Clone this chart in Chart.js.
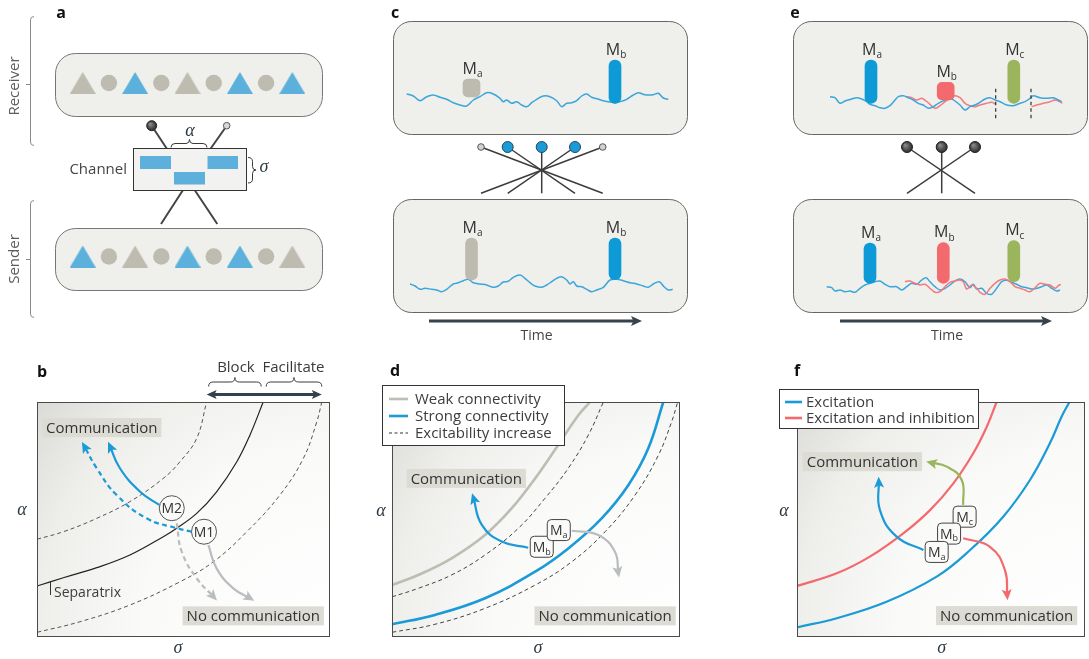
<!DOCTYPE html>
<html>
<head>
<meta charset="utf-8">
<script src="https://cdn.jsdelivr.net/npm/chart.js@4.4.1/dist/chart.umd.min.js"></script>
<style>
  html, body { margin: 0; padding: 0; background: #ffffff; }
  body { position: relative; width: 1089px; height: 659px; overflow: hidden; }
  canvas { position: absolute; }
</style>
</head>
<body>
<canvas id="panelA" width="360" height="340" style="left:0;top:0"></canvas>
<canvas id="panelC" width="350" height="350" style="left:370px;top:0"></canvas>
<canvas id="panelE" width="319" height="350" style="left:770px;top:0"></canvas>
<canvas id="panelB" width="365" height="304" style="left:0;top:355px"></canvas>
<canvas id="panelD" width="330" height="304" style="left:370px;top:355px"></canvas>
<canvas id="panelF" width="319" height="304" style="left:770px;top:355px"></canvas>
<script>
// ---------------- data ----------------
// a: channel populations (left to right)
const receiverSymbols = ['triangle', 'circle', 'triangle', 'circle', 'triangle', 'circle', 'triangle', 'circle', 'triangle'];
const receiverKinds   = ['grey', 'grey', 'blue', 'grey', 'grey', 'grey', 'blue', 'grey', 'blue'];
const senderSymbols   = ['triangle', 'circle', 'triangle', 'circle', 'triangle', 'circle', 'triangle', 'circle', 'triangle'];
const senderKinds     = ['blue', 'grey', 'grey', 'grey', 'blue', 'grey', 'blue', 'grey', 'grey'];

// c: activity traces, [time, deviation from rest]
const cReceiverTrace = [[13.7,1],[20.3,-1],[27,-5.7],[33.7,-1.7],[40.3,0],[47,-2.3],[53.7,-4.3],[60.3,-7.7],[67,-10],[73.7,-11],[80.3,-5],[87,-1.7],[93.7,2.3],[100.3,1],[107,-3.3],[110.3,-6.7],[113.7,-5],[118.7,-8.3],[123.7,-6.7],[128.7,-10],[133.7,-11.7],[138.7,-7.7],[143.7,-4.3],[150.3,-1],[157,-1.7],[163.7,-5.7],[168.7,-11.7],[173.7,-8.3],[178.7,-7.7],[183.7,-5.7],[188.7,-1],[193.7,1],[198.7,-2.3],[203.7,-3.7],[210.3,-5.7],[215.3,-6.7],[222,-7.7],[227,-6.7],[233.7,-4.3],[240.3,0],[245.3,2.3],[252,0.3],[260.3,0.3],[265.3,1.7],[270.3,-3],[275.3,-4.3]];
const cSenderTrace = [[17,1],[22,-1],[27,-4.3],[32,-3.3],[38.7,-4.3],[43.7,-5],[48.7,-6.7],[53.7,-4.3],[60.3,1],[65.3,2.3],[70.3,4.3],[75.3,5.7],[80.3,2.3],[87,1],[93.7,0],[100.3,-2.3],[105.3,-1],[110.3,3],[115.3,3.7],[120.3,7.7],[127,10],[132,6.7],[137,2.3],[142,-1],[148.7,-2.3],[153.7,0],[158.7,3.3],[163.7,6.7],[168.7,8.3],[173.7,5],[177,1],[180.3,3.3],[183.7,-1],[188.7,-1.7],[193.7,-4.3],[198.7,-6.7],[203.7,-5],[210.3,-2.3],[217,5],[223.7,5.7],[230.3,4.3],[237,2.3],[243.7,1],[250.3,-1],[255.3,-2.3],[260.3,1],[266.3,3.3],[271,-1.7],[275.3,-5],[279.7,-4.3]];
const cMessageNames = ['a', 'b'];
const cMessageTimes = [78.5, 222];
const cReceiverResponse = [[-2, 16], [-8.3, 35]];
const cSenderSpike = [[5, 47], [5.3, 47]];

// e: excitatory (blue) and inhibitory (red) activity traces
const eReceiverExcTrace = [[37,1.3],[42,0.3],[47,-5.3],[52,-3],[58.7,-1],[63.7,0.3],[68.7,-1],[73.7,-3.7],[77,-6.3],[82,-7.7],[87,-9.7],[92,-10.3],[97,-7.7],[102,-2],[105.3,1.3],[110.3,2.3],[115.3,0.3],[120.3,-2],[125.3,-5.3],[130.3,-7],[135.3,-10.3],[140.3,-8.7],[145.3,-5.3],[152,-2],[157,-0.3],[162,-3],[167,-7],[172,-12],[177,-8.7],[182,-7],[187,-4.3],[192,-1],[197,0.3],[202,-2],[207,-3.7],[213.7,-7],[220.3,-7.7],[227,-5.3],[232,-3.7],[237,-0.3],[240.3,2.3],[247,0.3],[253.7,-0.3],[260.3,0.3],[265.3,-2],[268.7,-3.7]];
const eReceiverInhTraceEarly = [[113.7,1.3],[118.7,0.3],[123.7,-2],[128.7,-0.3],[133,-3],[137,-6.3],[142,-10.3],[147,-7.7],[152,-3.7],[157,-0.3],[162,2.3],[167,0.3],[172,-5.3],[177,-7.7],[182,-8.7],[187,-7],[193.7,-5.3],[198.7,-4.3],[203,-6.3]];
const eReceiverInhTraceLate = [[238.7,-8.7],[243.7,-7],[250.3,-5.3],[257,-3.7],[262,-2],[265.3,-3],[269.3,-5]];
const eSenderExcTrace = [[33.7,1.3],[38.7,0.3],[42,-3],[47,-2],[52,-3.7],[57,-3],[62,-4.3],[67,-0.3],[72,3],[77,4.7],[82,6.3],[87,7],[92,3.7],[97,1.3],[103.7,1.3],[108.7,-2],[113.7,1.3],[118.7,4.7],[123.7,3.7],[128.7,8],[133,10.3],[137,6.3],[142,1.3],[147,-2],[152,-0.3],[157,3],[162,7],[167,9],[172,6.3],[177,0.3],[180.3,3.7],[183.7,-1],[188.7,-0.3],[193.7,-5.3],[198.7,-6.3],[203.7,-0.3],[208.7,6.3],[213.7,7.7],[218.7,5.7],[223.7,3.7],[228.7,1.3],[233.7,0.3],[238.7,-1],[243.7,-0.3],[248.7,1.3],[253.7,3],[258.7,-0.3],[263.7,-3],[267,-2]];
const eSenderInhTrace = [[112,6.3],[117,7],[122,4.7],[127,3],[132,3.7],[137,-0.3],[142,-4.3],[147,-3.7],[152,1.3],[157,5.7],[162,7],[167,8],[170.3,6.3],[173.7,-1],[178.7,3],[183.7,-0.3],[187,-4.3],[192,-6.3],[197,-0.3],[202,4.7],[207,8],[212,9],[217,6.3],[222,1.3],[227,-0.3],[232,-2],[237,-3.7],[242,0.3],[247,4.7],[252,3.7],[257,3],[262,-0.3],[265.3,2.3],[267.7,3.7]];
const eMessageNames = ['a', 'b', 'c'];
const eReceiverTimes = [78, 152.7, 220.8];
const eSenderTimes = [77, 150.3, 220.8];
const eReceiverResponse = [[-5.3, 38], [-2, 15.7], [-5.3, 38]];
const eSenderSpike = [[4.7, 45], [4.7, 45.3], [6.3, 47.3]];
const eWindowEdges = [202.7, 238];
const eWindowSpan = [-20.3, 11.3];

// b: threshold curves in (σ, α) space, [σ, α]
const bSeparatrix = [[0,21.7],[9,25.2],[20.4,29.5],[31.7,34.9],[43.1,42.7],[47.7,46.3],[54.5,52.6],[61.3,61.8],[68.2,74.6],[72.7,86],[77.2,100]];
const bSeparatrixBlocked = [[0,41.6],[9,44.8],[20.4,50.5],[31.7,57.6],[43.1,67.5],[48.8,74.6],[54.5,84.5],[57.9,100]];
const bSeparatrixFacilitated = [[0,2],[14.7,6.5],[31.7,13.6],[48.8,23.5],[60.2,32],[71.6,44.8],[82.9,60.4],[90.9,76],[95.5,91.6],[97.2,100]];
const bM2Communicates = [[41.7,56.2],[35.2,61.8],[28.3,71.8],[24.8,81.5]];
const bM1Facilitated = [[52.8,44.8],[47.7,46.3],[37.4,50.5],[27.2,60.4],[20.4,71.8],[16,81.5]];
const bM2Blocked = [[47.7,48.4],[49.4,36.3],[54.5,25],[60.5,16.8]];
const bM1Silent = [[58.5,39.1],[61.3,29.2],[67,20.7],[73,16.3]];
const bMessageNames = ['M1', 'M2'];
const bMessageSigma = [57, 46];
const bMessageAlpha = [44.8, 54.8];

// d: connectivity strength shifts the threshold
const dWeak = [[0,22.1],[9.1,26.4],[20.7,33.5],[32.3,43.4],[41.6,54.8],[49.7,67.5],[57.7,81.7],[64.7,94.4],[68.8,100]];
const dWeakExcitable = [[0,17.1],[9.1,20.7],[20.7,26.4],[32.3,34.9],[43.9,46.3],[53.1,59],[61.2,71.8],[68.2,86],[73.4,100]];
const dStrong = [[0,5.4],[14.9,9.4],[32.3,16.5],[49.7,27.8],[61.2,37.7],[72.8,50.5],[82.1,64.7],[89,80.3],[94.2,100]];
const dStrongExcitable = [[0,2],[14.9,5.4],[32.3,12.2],[49.7,22.1],[62.4,32],[74,44.8],[84.4,60.4],[92.5,77.4],[97.1,91.6],[99.2,100]];
const dMbToCommunication = [[47.3,38],[38.1,40.6],[31.2,47.7],[28.2,59.5]];
const dMaToSilence = [[62.4,45.2],[71.6,43.4],[77.4,36.3],[78.6,27]];
const dMessageNames = ['a', 'b'];
const dMessageSigma = [57.9, 52];
const dMessageAlpha = [45.5, 38.4];

// f: excitation alone versus excitation with inhibition
const fExcitation = [[0,4.1],[13.8,8],[31.1,15],[48.5,25.7],[60.1,37],[71.6,51.2],[80.9,66.8],[87.8,82.4],[91.9,93.8],[94.6,100]];
const fExcInh = [[0,21.7],[13.8,27.1],[25.3,34.2],[36.9,44.1],[46.2,54],[54.3,65.4],[61.2,78.2],[65.9,89.5],[69.3,100]];
const fMaToCommunication = [[43.9,37],[34.6,42.7],[28.8,54],[28.4,66.5]];
const fMcToCommunication = [[57.7,56.2],[57.2,66.8],[52,72.5],[46.2,74.3]];
const fMbToSilence = [[57.7,42],[67,38.4],[72.2,28.5],[73,17.3]];
const fMessageNames = ['a', 'b', 'c'];
const fMessageSigma = [48.5, 52.8, 58.2];
const fMessageAlpha = [36.2, 44, 51.2];

// ---------------- styling ----------------
const FONT = "'Open Sans', 'Noto Sans', 'DejaVu Sans', sans-serif";
const GREEK = "'Liberation Serif', 'DejaVu Serif', serif";
const BLUE = '#1a9ad6';
const BAR_BLUE = '#0e9ad6';
const TRACE_BLUE = '#3ba6dc';
const RED = '#f26a6e';
const TRACE_RED = '#f47a7d';
const GREEN = '#9bb55c';
const MSG_GREY = '#bdbab0';
const ARROW_GREY = '#b9bdc0';
const BOX_FILL = '#efefeb';
const TAG_FILL = '#dcdbd4';
const symbolColour = { blue: '#5cb0dc', grey: '#bebbb0' };

// ---------------- drawing helpers ----------------
function roundRect(ctx, x, y, w, h, r) {
  ctx.beginPath();
  ctx.moveTo(x + r, y);
  ctx.arcTo(x + w, y, x + w, y + h, r);
  ctx.arcTo(x + w, y + h, x, y + h, r);
  ctx.arcTo(x, y + h, x, y, r);
  ctx.arcTo(x, y, x + w, y, r);
  ctx.closePath();
}
function label(ctx, str, x, y, o = {}) {
  ctx.save();
  ctx.font = `${o.style || 'normal'} ${o.weight || 'normal'} ${o.size || 15}px ${o.family || FONT}`;
  ctx.fillStyle = o.colour || '#3d3d3d';
  ctx.textAlign = o.align || 'center';
  ctx.textBaseline = o.baseline || 'middle';
  ctx.fillText(str, x, y);
  ctx.restore();
}
function greek(ctx, ch, x, y) {
  label(ctx, ch, x, y, { family: GREEK, style: 'italic', size: 18, colour: '#2c3841' });
}
function drawM(ctx, sub, cx, cy, size) {
  ctx.save();
  const subSize = Math.round(size * 0.62);
  ctx.font = `${size}px ${FONT}`;
  const wM = ctx.measureText('M').width;
  ctx.font = `${subSize}px ${FONT}`;
  const wS = ctx.measureText(sub).width;
  const x0 = cx - (wM + wS) / 2;
  const base = cy + size * 0.36;
  ctx.fillStyle = '#333';
  ctx.textAlign = 'left';
  ctx.textBaseline = 'alphabetic';
  ctx.font = `${size}px ${FONT}`;
  ctx.fillText('M', x0, base);
  ctx.font = `${subSize}px ${FONT}`;
  ctx.fillText(sub, x0 + wM, base + size * 0.2);
  ctx.restore();
}
function arrowHead(ctx, tx, ty, ux, uy, len, half, colour) {
  ctx.save();
  ctx.fillStyle = colour;
  ctx.beginPath();
  ctx.moveTo(tx, ty);
  ctx.lineTo(tx - ux * len - uy * half, ty - uy * len + ux * half);
  ctx.lineTo(tx - ux * len * 0.78, ty - uy * len * 0.78);
  ctx.lineTo(tx - ux * len + uy * half, ty - uy * len - ux * half);
  ctx.closePath();
  ctx.fill();
  ctx.restore();
}
function straightArrow(ctx, x1, y1, x2, y2, colour, lw, len, half, both) {
  const d = Math.hypot(x2 - x1, y2 - y1), ux = (x2 - x1) / d, uy = (y2 - y1) / d;
  ctx.save();
  ctx.strokeStyle = colour;
  ctx.lineWidth = lw;
  ctx.beginPath();
  const s = both ? len * 0.6 : 0;
  ctx.moveTo(x1 + ux * s, y1 + uy * s);
  ctx.lineTo(x2 - ux * len * 0.6, y2 - uy * len * 0.6);
  ctx.stroke();
  ctx.restore();
  arrowHead(ctx, x2, y2, ux, uy, len, half, colour);
  if (both) arrowHead(ctx, x1, y1, -ux, -uy, len, half, colour);
}
function hBrace(ctx, x1, x2, y, h) {
  const m = (x1 + x2) / 2;
  ctx.save();
  ctx.strokeStyle = '#3a3a3a';
  ctx.lineWidth = 1;
  ctx.beginPath();
  ctx.moveTo(x1, y + h);
  ctx.quadraticCurveTo(x1, y, x1 + h, y);
  ctx.lineTo(m - h, y);
  ctx.quadraticCurveTo(m, y, m, y - h);
  ctx.quadraticCurveTo(m, y, m + h, y);
  ctx.lineTo(x2 - h, y);
  ctx.quadraticCurveTo(x2, y, x2, y + h);
  ctx.stroke();
  ctx.restore();
}
function tag(ctx, str, cx, cy) {
  ctx.save();
  ctx.font = `15px ${FONT}`;
  const w = ctx.measureText(str).width + 8, h = 19;
  ctx.fillStyle = TAG_FILL;
  ctx.fillRect(cx - w / 2, cy - h / 2, w, h);
  ctx.fillStyle = '#333';
  ctx.textAlign = 'center';
  ctx.textBaseline = 'middle';
  ctx.fillText(str, cx, cy + 1);
  ctx.restore();
}
function ball(ctx, x, y, r, fill, stroke) {
  ctx.save();
  ctx.beginPath();
  ctx.arc(x, y, r, 0, Math.PI * 2);
  ctx.fillStyle = fill;
  ctx.fill();
  ctx.strokeStyle = stroke;
  ctx.lineWidth = 1;
  ctx.stroke();
  ctx.restore();
}
function darkBall(ctx, x, y, r) {
  const g = ctx.createRadialGradient(x - r * 0.35, y - r * 0.35, 0.5, x, y, r);
  g.addColorStop(0, '#8a8a8a');
  g.addColorStop(1, '#2b2b2b');
  ball(ctx, x, y, r, g, '#222');
}
const baseOptions = {
  responsive: false,
  animation: false,
  events: [],
  plugins: { legend: { display: false }, tooltip: { enabled: false } }
};

// ---------------- panel a ----------------
function triangleSprite(colour) {
  const c = document.createElement('canvas');
  c.width = 26; c.height = 22;
  const g = c.getContext('2d');
  g.fillStyle = colour;
  g.beginPath();
  g.moveTo(13, 0); g.lineTo(26, 22); g.lineTo(0, 22);
  g.closePath();
  g.fill();
  return c;
}
const sprites = { blue: triangleSprite(symbolColour.blue), grey: triangleSprite(symbolColour.grey) };
function rowDataset(row, symbols, kinds) {
  return {
    data: symbols.map((s, i) => ({ x: i + 1, y: row })),
    pointStyle: symbols.map((s, i) => (s === 'triangle' ? sprites[kinds[i]] : 'circle')),
    pointRadius: 8.2,
    pointBackgroundColor: kinds.map(k => symbolColour[k]),
    pointBorderWidth: 0,
    showLine: false,
    clip: false
  };
}
function drawPanelA(ctx) {
  ctx.save();
  label(ctx, 'a', 61, 13, { weight: 'bold', size: 16, colour: '#111' });
  // population brackets
  ctx.strokeStyle = '#8c8c8c';
  ctx.lineWidth = 1;
  [[16, 146, 84], [200, 318, 259]].forEach(([t, b, m]) => {
    ctx.beginPath();
    ctx.moveTo(34, t + 0.5); ctx.quadraticCurveTo(30.5, t + 0.5, 30.5, t + 4);
    ctx.lineTo(30.5, b - 4); ctx.quadraticCurveTo(30.5, b - 0.5, 34, b - 0.5);
    ctx.moveTo(30.5, m + 0.5); ctx.lineTo(26, m + 0.5);
    ctx.stroke();
  });
  [['Receiver', 86], ['Sender', 259]].forEach(([s, y]) => {
    ctx.save();
    ctx.translate(15, y);
    ctx.rotate(-Math.PI / 2);
    label(ctx, s, 0, 0, { size: 15, colour: '#5c5c5c' });
    ctx.restore();
  });
  // population boxes
  [[53, 63], [228, 62]].forEach(([y, h]) => {
    roundRect(ctx, 55.5, y + 0.5, 267, h, 20);
    ctx.fillStyle = BOX_FILL; ctx.fill();
    ctx.strokeStyle = '#767676'; ctx.lineWidth = 1; ctx.stroke();
  });
  // stalks above and below the channel
  ctx.strokeStyle = '#454545';
  ctx.lineWidth = 2;
  ctx.beginPath();
  ctx.moveTo(151.7, 125.7); ctx.lineTo(166.7, 148.5);
  ctx.moveTo(226.7, 125.7); ctx.lineTo(210.7, 148.5);
  ctx.moveTo(182.7, 190.5); ctx.lineTo(161, 224);
  ctx.moveTo(195, 190.5); ctx.lineTo(217.3, 224);
  ctx.stroke();
  darkBall(ctx, 151.7, 125.7, 5);
  ball(ctx, 226.7, 125.7, 3.3, '#d8d8d8', '#555');
  // channel
  ctx.fillStyle = '#f2f2f0';
  ctx.fillRect(133, 148.5, 114, 42);
  ctx.strokeStyle = '#333'; ctx.lineWidth = 1;
  ctx.strokeRect(133.5, 148.5, 113, 42);
  ctx.fillStyle = '#5eb0dc';
  ctx.fillRect(140, 156, 31, 13);
  ctx.fillRect(174, 172, 31, 12.5);
  ctx.fillRect(207.5, 156, 30.5, 13);
  label(ctx, 'Channel', 127, 170, { align: 'right', size: 15, colour: '#454545' });
  // spacing bracket (α) and width bracket (σ)
  ctx.strokeStyle = '#3a3a3a'; ctx.lineWidth = 1;
  ctx.beginPath();
  ctx.moveTo(171, 147.5); ctx.quadraticCurveTo(171, 143.5, 175, 143.5);
  ctx.lineTo(186, 143.5); ctx.quadraticCurveTo(189.5, 143.5, 189.5, 139.5);
  ctx.quadraticCurveTo(189.5, 143.5, 193, 143.5);
  ctx.lineTo(203, 143.5); ctx.quadraticCurveTo(207, 143.5, 207, 147.5);
  ctx.stroke();
  ctx.beginPath();
  ctx.moveTo(248, 157.5); ctx.quadraticCurveTo(252.5, 157.5, 252.5, 161.5);
  ctx.lineTo(252.5, 166.5); ctx.quadraticCurveTo(252.5, 170, 256, 170);
  ctx.quadraticCurveTo(252.5, 170, 252.5, 173.5);
  ctx.lineTo(252.5, 179); ctx.quadraticCurveTo(252.5, 183, 248, 183);
  ctx.stroke();
  greek(ctx, 'α', 190, 131);
  greek(ctx, 'σ', 264, 167);
  ctx.restore();
}
new Chart(document.getElementById('panelA'), {
  type: 'scatter',
  data: { datasets: [rowDataset(1, receiverSymbols, receiverKinds), rowDataset(0, senderSymbols, senderKinds)] },
  options: {
    ...baseOptions,
    layout: { padding: { left: 82.7, right: 67.7, top: 83, bottom: 83.5 } },
    scales: {
      x: { type: 'linear', min: 1, max: 9, display: false },
      y: { type: 'linear', min: 0, max: 1, display: false }
    }
  },
  plugins: [{ id: 'populations', beforeDatasetsDraw(chart) { drawPanelA(chart.ctx); } }]
});

// ---------------- panels c and e ----------------
function tracePanel(id, cfg) {
  const canvas = document.getElementById(id);
  const H = canvas.height;
  const datasets = [];
  const messageSets = [];
  cfg.traces.forEach(tr => datasets.push({
    type: 'line', yAxisID: tr.axis,
    data: tr.points.map(([t, v]) => ({ x: t, y: v })),
    borderColor: tr.colour, borderWidth: 1.5, tension: 0.35,
    pointRadius: 0, fill: false, order: 2, clip: false
  }));
  cfg.messages.forEach(m => {
    messageSets.push({ index: datasets.length, name: m.name });
    datasets.push({
      type: 'bar', yAxisID: m.axis, data: [{ x: m.t, y: m.range }],
      backgroundColor: m.colour, barThickness: m.width, borderRadius: m.radius,
      borderSkipped: false, grouped: false, order: 0
    });
  });
  (cfg.guides || []).forEach(g => datasets.push({
    type: 'line', yAxisID: g.axis, data: g.points.map(([t, v]) => ({ x: t, y: v })),
    borderColor: '#2f2f2f', borderWidth: 1.2, borderDash: [3.5, 3], pointRadius: 0, order: 1, clip: false
  }));
  return new Chart(canvas, {
    type: 'line',
    data: { datasets },
    options: {
      ...baseOptions,
      layout: { padding: { left: cfg.left, right: canvas.width - cfg.left - 294, top: 0, bottom: 0 } },
      scales: {
        x: { type: 'linear', min: 0, max: 294, display: false, offset: false },
        yR: { type: 'linear', axis: 'y', position: 'left', min: cfg.receiverBaseline - H, max: cfg.receiverBaseline, display: false },
        yS: { type: 'linear', axis: 'y', position: 'left', min: cfg.senderBaseline - H, max: cfg.senderBaseline, display: false }
      }
    },
    plugins: [{
      id: 'traceScene',
      beforeDatasetsDraw(chart) { cfg.drawScene(chart.ctx); },
      afterDatasetsDraw(chart) {
        messageSets.forEach(ms => {
          const el = chart.getDatasetMeta(ms.index).data[0];
          const top = Math.min(el.y, el.base);
          drawM(chart.ctx, ms.name, el.x + 1, top - 11, 16);
        });
      }
    }]
  });
}
function drawTraceScene(ctx, letter, balls, ballY, footY, arrowX1, arrowX2) {
  label(ctx, letter, 25, 13, { weight: 'bold', size: 16, colour: '#111' });
  [21, 199].forEach(y => {
    roundRect(ctx, 23.5, y + 0.5, 294, 113, 18);
    ctx.fillStyle = BOX_FILL; ctx.fill();
    ctx.strokeStyle = '#666'; ctx.lineWidth = 1; ctx.stroke();
  });
  ctx.save();
  ctx.strokeStyle = '#3c3c3c';
  ctx.lineWidth = 1.5;
  balls.forEach((b, i) => {
    const foot = balls[balls.length - 1 - i].x;
    ctx.beginPath();
    ctx.moveTo(b.x, ballY);
    ctx.lineTo(foot, footY);
    ctx.stroke();
  });
  ctx.restore();
  balls.forEach(b => {
    if (b.kind === 'dark') darkBall(ctx, b.x, ballY, 5.5);
    else if (b.kind === 'blue') ball(ctx, b.x, ballY, 5.5, BLUE, '#234a5e');
    else ball(ctx, b.x, ballY, 3.3, '#d2d2d2', '#555');
  });
  straightArrow(ctx, arrowX1, 321, arrowX2, 321, '#36434c', 3, 11, 5, false);
  label(ctx, 'Time', (arrowX1 + arrowX2) / 2 + 1, 336, { size: 14, colour: '#444' });
}
tracePanel('panelC', {
  left: 23, receiverBaseline: 95, senderBaseline: 285,
  traces: [
    { axis: 'yR', points: cReceiverTrace, colour: TRACE_BLUE },
    { axis: 'yS', points: cSenderTrace, colour: TRACE_BLUE }
  ],
  messages: [
    { axis: 'yR', name: cMessageNames[0], t: cMessageTimes[0], range: cReceiverResponse[0], colour: MSG_GREY, width: 17, radius: 5 },
    { axis: 'yR', name: cMessageNames[1], t: cMessageTimes[1], range: cReceiverResponse[1], colour: BAR_BLUE, width: 12, radius: 6 },
    { axis: 'yS', name: cMessageNames[0], t: cMessageTimes[0], range: cSenderSpike[0], colour: MSG_GREY, width: 12, radius: 6 },
    { axis: 'yS', name: cMessageNames[1], t: cMessageTimes[1], range: cSenderSpike[1], colour: BAR_BLUE, width: 12, radius: 6 }
  ],
  drawScene(ctx) {
    drawTraceScene(ctx, 'c',
      [{ x: 111, kind: 'small' }, { x: 137.7, kind: 'blue' }, { x: 171.7, kind: 'blue' }, { x: 205, kind: 'blue' }, { x: 232.7, kind: 'small' }],
      147, 193.3, 59, 272);
  }
});
tracePanel('panelE', {
  left: 23, receiverBaseline: 98, senderBaseline: 288,
  traces: [
    { axis: 'yR', points: eReceiverExcTrace, colour: TRACE_BLUE },
    { axis: 'yR', points: eReceiverInhTraceEarly, colour: TRACE_RED },
    { axis: 'yR', points: eReceiverInhTraceLate, colour: TRACE_RED },
    { axis: 'yS', points: eSenderInhTrace, colour: TRACE_RED },
    { axis: 'yS', points: eSenderExcTrace, colour: TRACE_BLUE }
  ],
  messages: [
    { axis: 'yR', name: eMessageNames[0], t: eReceiverTimes[0], range: eReceiverResponse[0], colour: BAR_BLUE, width: 12, radius: 6 },
    { axis: 'yR', name: eMessageNames[1], t: eReceiverTimes[1], range: eReceiverResponse[1], colour: RED, width: 17, radius: 5 },
    { axis: 'yR', name: eMessageNames[2], t: eReceiverTimes[2], range: eReceiverResponse[2], colour: GREEN, width: 12, radius: 6 },
    { axis: 'yS', name: eMessageNames[0], t: eSenderTimes[0], range: eSenderSpike[0], colour: BAR_BLUE, width: 12, radius: 6 },
    { axis: 'yS', name: eMessageNames[1], t: eSenderTimes[1], range: eSenderSpike[1], colour: RED, width: 12, radius: 6 },
    { axis: 'yS', name: eMessageNames[2], t: eSenderTimes[2], range: eSenderSpike[2], colour: GREEN, width: 12, radius: 6 }
  ],
  guides: eWindowEdges.map(t => ({ axis: 'yR', points: [[t, eWindowSpan[0]], [t, eWindowSpan[1]]] })),
  drawScene(ctx) {
    drawTraceScene(ctx, 'e',
      [{ x: 137, kind: 'dark' }, { x: 171.7, kind: 'dark' }, { x: 205, kind: 'dark' }],
      147, 193.3, 70, 282);
  }
});

// ---------------- panels b, d and f ----------------
function phasePanel(id, cfg) {
  const canvas = document.getElementById(id);
  const datasets = [];
  const arrowSets = [];
  cfg.curves.forEach(c => datasets.push({
    data: c.points.map(([s, a]) => ({ x: s, y: a })),
    borderColor: c.colour, borderWidth: c.width, borderDash: c.dash || [],
    tension: 0.4, pointRadius: 0, fill: false, order: 2
  }));
  cfg.arrows.forEach(a => {
    arrowSets.push({ index: datasets.length, colour: a.colour });
    datasets.push({
      data: a.points.map(([s, al]) => ({ x: s, y: al })),
      borderColor: a.colour, borderWidth: 2.2, borderDash: a.dash || [],
      tension: 0.45, pointRadius: 0, fill: false, order: 1, clip: false
    });
  });
  return new Chart(canvas, {
    type: 'line',
    data: { datasets },
    options: {
      ...baseOptions,
      layout: { padding: cfg.padding },
      scales: {
        x: { type: 'linear', min: 0, max: 100, display: false },
        y: { type: 'linear', min: 0, max: 100, display: false }
      }
    },
    plugins: [{
      id: 'phaseScene',
      beforeDatasetsDraw(chart) {
        const { ctx, chartArea: a } = chart;
        const r = Math.hypot(a.right - a.left, a.bottom - a.top);
        const g = ctx.createRadialGradient(a.right, a.bottom, 0, a.right, a.bottom, r);
        g.addColorStop(0, '#ffffff');
        g.addColorStop(0.5, '#fafaf9');
        g.addColorStop(0.78, '#eeeeeb');
        g.addColorStop(1, '#dadad6');
        ctx.save();
        ctx.fillStyle = g;
        ctx.fillRect(a.left, a.top, a.right - a.left, a.bottom - a.top);
        ctx.restore();
      },
      afterDatasetsDraw(chart) {
        const { ctx, chartArea: a, scales: { x, y } } = chart;
        arrowSets.forEach(as => {
          const pts = chart.getDatasetMeta(as.index).data;
          const last = pts[pts.length - 1];
          const prev = pts[pts.length - 2];
          const d = Math.hypot(last.x - prev.x, last.y - prev.y);
          const ux = (last.x - prev.x) / d, uy = (last.y - prev.y) / d;
          arrowHead(ctx, last.x + ux * 4, last.y + uy * 4, ux, uy, 11, 5, as.colour);
        });
        ctx.save();
        ctx.strokeStyle = '#4a4a4a';
        ctx.lineWidth = 1;
        ctx.strokeRect(Math.round(a.left) + 0.5, Math.round(a.top) + 0.5, Math.round(a.right - a.left) - 1, Math.round(a.bottom - a.top) - 1);
        ctx.restore();
        cfg.tags.forEach(t => tag(ctx, t.text, x.getPixelForValue(t.at[0]), y.getPixelForValue(t.at[1])));
        cfg.drawMarkers(ctx, x, y);
        label(ctx, cfg.letter[0], cfg.letter[1], cfg.letter[2], { weight: 'bold', size: 16, colour: '#111' });
        greek(ctx, 'α', cfg.alphaAt[0], cfg.alphaAt[1]);
        greek(ctx, 'σ', cfg.sigmaAt[0], cfg.sigmaAt[1]);
        if (cfg.drawExtras) cfg.drawExtras(ctx, chart);
      }
    }]
  });
}
function boxMarkers(names, sigma, alpha) {
  return (ctx, x, y) => {
    for (let i = names.length - 1; i >= 0; i--) {
      const px = x.getPixelForValue(sigma[i]), py = y.getPixelForValue(alpha[i]);
      roundRect(ctx, px - 11.5, py - 10.5, 23, 21, 4);
      ctx.fillStyle = '#fafaf8'; ctx.fill();
      ctx.strokeStyle = '#444'; ctx.lineWidth = 1; ctx.stroke();
      drawM(ctx, names[i], px, py, 14);
    }
  };
}
function drawLegend(ctx, box, rows, rowY, gap, sx1, sx2, tx) {
  ctx.save();
  ctx.fillStyle = '#ffffff';
  ctx.fillRect(box[0], box[1], box[2], box[3]);
  ctx.strokeStyle = '#333'; ctx.lineWidth = 1;
  ctx.strokeRect(box[0] + 0.5, box[1] + 0.5, box[2] - 1, box[3] - 1);
  rows.forEach((r, i) => {
    const yy = rowY + i * gap;
    ctx.save();
    ctx.strokeStyle = r.colour; ctx.lineWidth = r.width; ctx.setLineDash(r.dash || []);
    ctx.beginPath(); ctx.moveTo(sx1, yy); ctx.lineTo(sx2, yy); ctx.stroke();
    ctx.restore();
    label(ctx, r.text, tx, yy + 1, { align: 'left', size: 15, colour: '#3d3d3d' });
  });
  ctx.restore();
}

phasePanel('panelB', {
  padding: { left: 37, top: 47, right: 35, bottom: 22 },
  curves: [
    { points: bSeparatrix, colour: '#222', width: 1.2 },
    { points: bSeparatrixBlocked, colour: '#555', width: 1, dash: [4, 3] },
    { points: bSeparatrixFacilitated, colour: '#555', width: 1, dash: [4, 3] }
  ],
  arrows: [
    { points: bM2Communicates, colour: BLUE },
    { points: bM1Facilitated, colour: BLUE, dash: [5, 3.5] },
    { points: bM2Blocked, colour: ARROW_GREY, dash: [5, 3.5] },
    { points: bM1Silent, colour: ARROW_GREY }
  ],
  tags: [{ text: 'Communication', at: [22.1, 89.1] }, { text: 'No communication', at: [73.8, 9] }],
  drawMarkers(ctx, x, y) {
    bMessageNames.forEach((n, i) => {
      const px = x.getPixelForValue(bMessageSigma[i]), py = y.getPixelForValue(bMessageAlpha[i]);
      ball(ctx, px, py, 12.5, 'rgba(250,250,249,0.92)', '#555');
      label(ctx, n, px, py + 1, { size: 14, colour: '#333' });
    });
  },
  letter: ['b', 42, 17], alphaAt: [22, 155], sigmaAt: [178, 293],
  drawExtras(ctx, chart) {
    const xs = chart.scales.x;
    const xBlock = xs.getPixelForValue(bSeparatrixBlocked[bSeparatrixBlocked.length - 1][0]);
    const xSep = xs.getPixelForValue(bSeparatrix[bSeparatrix.length - 1][0]);
    const xFac = xs.getPixelForValue(bSeparatrixFacilitated[bSeparatrixFacilitated.length - 1][0]);
    hBrace(ctx, xBlock + 2, xSep - 2, 27, 4.5);
    hBrace(ctx, xSep + 3, xFac, 27, 4.5);
    label(ctx, 'Block', (xBlock + xSep) / 2 + 1, 13, { size: 15, colour: '#3a3a3a' });
    label(ctx, 'Facilitate', (xSep + xFac) / 2 + 1, 13, { size: 15, colour: '#3a3a3a' });
    straightArrow(ctx, xBlock, 39.5, xFac, 39.5, '#34414b', 3, 10, 4.5, true);
    ctx.save();
    ctx.strokeStyle = '#333'; ctx.lineWidth = 1;
    ctx.beginPath(); ctx.moveTo(50.5, 227); ctx.lineTo(50.5, 240); ctx.stroke();
    ctx.restore();
    label(ctx, 'Separatrix', 54, 241.5, { align: 'left', baseline: 'alphabetic', size: 14, colour: '#3d3d3d' });
  }
});

phasePanel('panelD', {
  padding: { left: 22, top: 47, right: 20, bottom: 22 },
  curves: [
    { points: dWeak, colour: '#bdbdb4', width: 2.6 },
    { points: dWeakExcitable, colour: '#444', width: 1, dash: [4, 3] },
    { points: dStrong, colour: BLUE, width: 2.6 },
    { points: dStrongExcitable, colour: '#444', width: 1, dash: [4, 3] }
  ],
  arrows: [
    { points: dMbToCommunication, colour: BLUE },
    { points: dMaToSilence, colour: ARROW_GREY }
  ],
  tags: [{ text: 'Communication', at: [25.8, 67.5] }, { text: 'No communication', at: [74, 9] }],
  drawMarkers: boxMarkers(dMessageNames, dMessageSigma, dMessageAlpha),
  letter: ['d', 25, 16], alphaAt: [11, 156], sigmaAt: [168, 293],
  drawExtras(ctx) {
    drawLegend(ctx, [12, 30, 183, 61], [
      { text: 'Weak connectivity', colour: '#bdbdb4', width: 2.6 },
      { text: 'Strong connectivity', colour: BLUE, width: 2.6 },
      { text: 'Excitability increase', colour: '#333', width: 1, dash: [3, 2.5] }
    ], 44, 17, 19, 38, 45);
  }
});

phasePanel('panelF', {
  padding: { left: 27, top: 47, right: 4, bottom: 22 },
  curves: [
    { points: fExcInh, colour: RED, width: 2.2 },
    { points: fExcitation, colour: BLUE, width: 2.2 }
  ],
  arrows: [
    { points: fMaToCommunication, colour: BLUE },
    { points: fMcToCommunication, colour: GREEN },
    { points: fMbToSilence, colour: RED }
  ],
  tags: [{ text: 'Communication', at: [22.7, 74.6] }, { text: 'No communication', at: [72.8, 9.1] }],
  drawMarkers: boxMarkers(fMessageNames, fMessageSigma, fMessageAlpha),
  letter: ['f', 27, 16], alphaAt: [14, 156], sigmaAt: [171.7, 293],
  drawExtras(ctx) {
    drawLegend(ctx, [9, 34, 200, 40], [
      { text: 'Excitation', colour: BLUE, width: 2.6 },
      { text: 'Excitation and inhibition', colour: RED, width: 2.6 }
    ], 47, 16, 15, 32, 36);
  }
});
</script>
</body>
</html>
